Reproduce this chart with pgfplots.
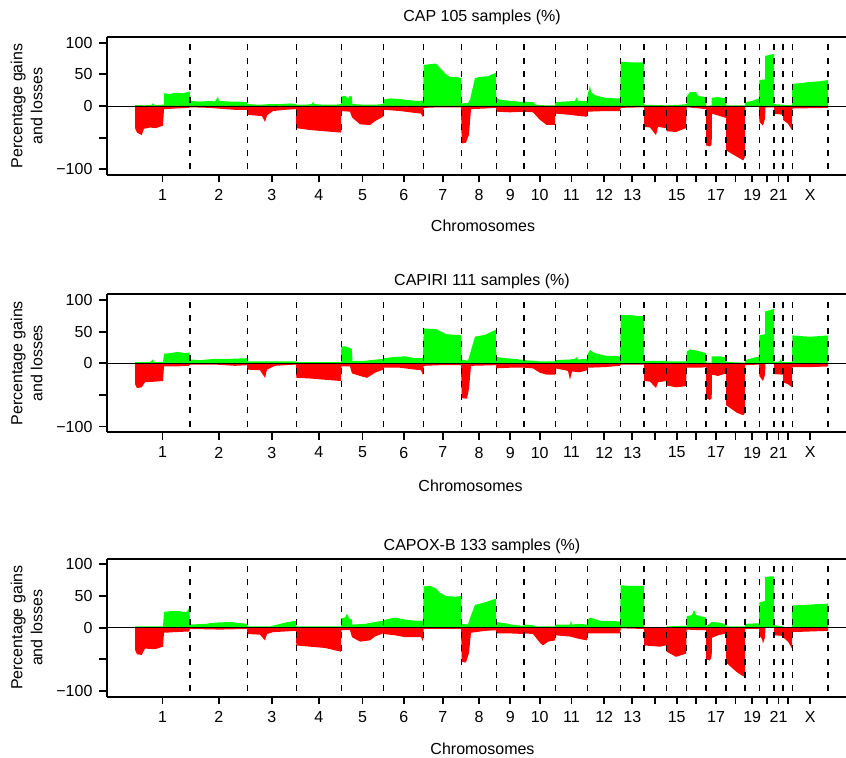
\documentclass[border=0pt]{standalone}
\usepackage{fontspec}
\setmainfont{Liberation Sans}
\usepackage{pgfplots}
\pgfplotsset{compat=1.18}
\definecolor{gain}{RGB}{0,255,0}
\definecolor{loss}{RGB}{255,0,0}
\newcommand{\fs}{\fontsize{8}{10}\selectfont}
\pgfplotsset{
  cnv/.style={
    scale only axis, width=369.5pt, height=69pt,
    xmin=107, xmax=846, ymin=-109, ymax=109,
    axis x line*=box, axis y line*=left,
    axis line style={-, line width=1pt, black},
    tick align=outside, tick pos=left,
    major tick length=3.75pt,
    every tick/.style={black, line width=0.9pt},
    xtick={162.5,218.7,271.8,318.8,362.5,403.7,442.7,479,510.2,539.7,571.5,604.2,632.3,655.3,676.7,696.3,716,735.5,752.2,766.7,778.5,787.7,810.2},
    xticklabels={1,2,3,4,5,6,7,8,9,10,11,12,13,,15,,17,,19,,21,,X},
    ytick={-100,-50,0,50,100}, yticklabels={−100,,0,50,100},
    /pgf/number format/assume math mode=true,
    tick label style={font=\fs},
    ylabel={Percentage gains\\and losses},
    ylabel style={font=\fs, align=center, at={(axis description cs:-0.0866,0.5)}, anchor=south, inner sep=0pt},
    xlabel={Chromosomes},
    every axis title shift=0pt,
    title style={font=\fs, anchor=base},
    xlabel style={font=\fs, anchor=base},
    unbounded coords=jump,
  },
  zeroline/.style={black, line width=0.45pt},
  bounds/.style={black, line width=0.65pt, dash pattern=on 3pt off 3.6pt},
}
\newcommand{\boundaries}{\addplot[bounds] coordinates {
 (190,-100)(190,99)(190,nan) (247.3,-100)(247.3,99)(247.3,nan) (296.3,-100)(296.3,99)(296.3,nan)
 (341.3,-100)(341.3,99)(341.3,nan) (383.7,-100)(383.7,99)(383.7,nan) (423.7,-100)(423.7,99)(423.7,nan)
 (461.7,-100)(461.7,99)(461.7,nan) (496.3,-100)(496.3,99)(496.3,nan) (524,-100)(524,99)(524,nan)
 (555.3,-100)(555.3,99)(555.3,nan) (587.7,-100)(587.7,99)(587.7,nan) (620.7,-100)(620.7,99)(620.7,nan)
 (644,-100)(644,99)(644,nan) (666.7,-100)(666.7,99)(666.7,nan) (686.7,-100)(686.7,99)(686.7,nan)
 (706,-100)(706,99)(706,nan) (726,-100)(726,99)(726,nan) (745,-100)(745,99)(745,nan)
 (759.3,-100)(759.3,99)(759.3,nan) (774,-100)(774,99)(774,nan) (783,-100)(783,99)(783,nan)
 (792.3,-100)(792.3,99)(792.3,nan) (828,-100)(828,99)};
 \addplot[zeroline] coordinates {(107,0)(846,0)};}
\begin{document}
\begin{tikzpicture}
\useasboundingbox (0,0) rectangle (423pt,379pt);
% ---------------- Panel 1: CAP ----------------
\begin{axis}[cnv, at={(53.5pt,291.5pt)}, anchor=south west,
  title={CAP 105 samples (\%)}, title style={at={(axis description cs:0.5074,1)}, yshift=7.65pt},
  xlabel style={at={(axis description cs:0.5088,0)}, yshift=-28.5pt}]
\addplot[fill=gain, draw=none] coordinates {
(135,0)(135,1.5)(145,1)(152,2)(153,5)(154,1.5)(163,2)(164,2)(164,20)(170,19)(176,21)(182,20)(188,22)(189.5,23)
(190,22)(190,8)(200,7)(210,8)(215,7)(218,15)(219,8)(230,7)(240,7)(247,6)
(247.3,3)(260,2)(270,3)(280,3)(290,4)(296,3)
(296.3,2)(305,2)(312,3)(313,7)(314,3)(325,2)(335,2)(341,3)
(341.3,15)(345,16)(348,12)(350,16)(351.7,15)(352.5,3)(365,2)(375,2)(383,3)
(383.7,10)(390,12)(400,11)(410,9)(420,8)(423,9)
(423.7,65)(430,66)(436,67)(440,60)(446,50)(450,46)(456,46)(461,44)
(461.7,4)(468,5)(470,10)(475,44)(480,46)(488,47)(492,50)(496,52)
(496.3,13)(500,10)(510,8)(518,7)(524,6)
(524.3,7)(533,6)(536,2)(545,1)(555,1)
(555.3,6)(565,7)(575,8)(576.7,14)(578,8)(587,8)
(587.8,20)(589,25)(590,33)(591,22)(595,17)(605,13)(615,12)(620,12)
(620.7,70)(630,69)(640,69)(644,69)
(644,2)(666.7,1)
(666.7,1)(680,2)(686.7,3)
(686.7,15)(690,22)(696,22)(698,16)(706,14)
(706,0)(711.7,1)(711.7,13)(718,14)(726,12)
(726,1)(745,1)
(745,6)(752,8)(759,12)
(759.3,41)(765,42)(765,79)(770,81)(774,82)
(774,3)(783,2)
(783,2)(792,1)
(792.3,35)(800,36)(810,38)(820,39)(828,41)(828,0)} \closedcycle;
\addplot[fill=loss, draw=none] coordinates {
(135,0)(135,-35)(137,-42)(141.7,-46)(144,-36)(150,-34)(156,-35)(163,-31)(164,-5)(175,-4)(189,-3)
(190,-2)(210,-3)(225,-5)(235,-6)(247,-6)
(247.3,-14)(255,-15)(262,-16)(265,-25)(267,-15)(273,-8)(285,-6)(296,-5)
(296.3,-35)(310,-38)(325,-40)(341,-42)
(341.3,-8)(350,-9)(352,-18)(360,-29)(370,-30)(375,-24)(383,-17)
(383.7,-6)(400,-8)(415,-11)(421,-12)(423,-18)
(423.7,-3)(440,-2)(461,-2)
(461.7,-59)(466,-58)(469,-45)(471,-5)(485,-4)(496,-3)
(496.3,-9)(510,-10)(524,-9)
(524.3,-9)(533,-10)(540,-22)(546.7,-30)(555,-30)
(555.3,-12)(570,-14)(580,-16)(587,-17)
(587.8,-9)(605,-8)(620,-8)
(620.7,-3)(644,-2)
(644,-33)(650,-34)(656,-46)(658,-33)(666,-35)
(666.7,-40)(676,-41)(686,-35)
(686.7,-2)(700,-4)(706,-5)
(706,-62)(710,-64)(711.7,-60)(712,-12)(718,-15)(726,-19)
(726,-70)(736.7,-80)(743.3,-86)(745,-80)
(745,-1)(759,-1)
(759.3,-25)(763,-31)(765,-20)(765.5,-2)(774,-2)
(774,-12)(783,-14)
(783,-22)(788,-28)(792,-38)
(792.3,-4)(828,-3)(828,0)} \closedcycle;
\boundaries
\end{axis}
% ---------------- Panel 2: CAPIRI ----------------
\begin{axis}[cnv, at={(53.5pt,162.85pt)}, anchor=south west,
  title={CAPIRI 111 samples (\%)}, title style={at={(axis description cs:0.5074,1)}, yshift=4.3pt},
  xlabel style={at={(axis description cs:0.4919,0)}, yshift=-29.7pt}]
\addplot[fill=gain, draw=none] coordinates {
(135,0)(135,2)(150,2)(153,6)(154,2)(163,2)(164,15)(170,16)(178,18)(185,16)(189.5,17)
(190,6)(200,5)(215,7)(230,7)(247,8)
(247.3,3)(270,3)(296,3)
(296.3,2)(320,2)(341,2)
(341.3,26)(345,27)(350,24)(351.7,23)(352.5,4)(365,4)(383,7)
(383.7,8)(395,10)(405,11)(415,8)(423,8)
(423.7,55)(436,54)(440,51)(446,46)(455,45)(461,45)
(461.7,6)(468,4)(470,15)(475,42)(485,45)(496,53)
(496.3,10)(505,8)(515,7)(524,5)
(524.3,5)(540,3)(555,3)
(555.3,5)(570,6)(575,7)(576.7,10)(578,6)(587,7)
(587.8,15)(590,21)(595,16)(605,12)(620,11)
(620.7,76)(630,76)(644,74)
(644,4)(666.7,4)
(666.7,3)(686.7,3)
(686.7,18)(690,22)(697,20)(706,16)
(706,1)(711.7,1)(711.7,11)(720,11)(726,9)
(726,2)(745,1)
(745,5)(752,8)(759,11)
(759.3,44)(765,46)(765,82)(770,84)(774,86)
(774,2)(780,3)(781,8)(782,2)(783,2)
(783,2)(792,2)
(792.3,44)(800,43)(810,42)(820,43)(828,44)(828,0)} \closedcycle;
\addplot[fill=loss, draw=none] coordinates {
(135,0)(135,-33)(137,-39)(141.7,-38)(145,-30)(155,-29)(163,-28)(164,-5)(175,-5)(189,-4)
(190,-2)(215,-2)(235,-4)(247,-3)
(247.3,-10)(260,-11)(265,-23)(267,-10)(275,-4)(296,-2)
(296.3,-23)(310,-24)(325,-26)(341,-28)
(341.3,-5)(350,-5)(352,-16)(360,-20)(367,-23)(375,-15)(383,-10)
(383.7,-7)(400,-7)(415,-10)(421,-11)(423,-18)
(423.7,-4)(440,-3)(461,-3)
(461.7,-55)(467,-56)(469,-40)(471,-4)(496,-3)
(496.3,-8)(510,-7)(524,-7)
(524.3,-7)(533,-8)(540,-15)(546.7,-18)(555,-18)
(555.3,-8)(568,-12)(570,-26)(572,-13)(580,-14)(587,-11)
(587.8,-7)(605,-6)(620,-4)
(620.7,-2)(644,-2)
(644,-28)(650,-29)(656,-39)(658,-30)(666,-28)
(666.7,-35)(676,-38)(686,-36)
(686.7,-7)(700,-7)(706,-6)
(706,-55)(710,-58)(711.7,-55)(712,-18)(718,-20)(726,-16)
(726,-66)(736.7,-78)(743.3,-82)(745,-78)
(745,-3)(759,-2)
(759.3,-20)(763,-28)(765,-18)(765.5,0)(774,0)
(774,-17)(783,-18)
(783,-30)(788,-33)(792,-38)
(792.3,-6)(810,-6)(828,-5)(828,0)} \closedcycle;
\boundaries
\end{axis}
% ---------------- Panel 3: CAPOX-B ----------------
\begin{axis}[cnv, at={(53.5pt,30.65pt)}, anchor=south west,
  title={CAPOX-B 133 samples (\%)}, title style={at={(axis description cs:0.5074,1)}, yshift=4.15pt},
  xlabel style={at={(axis description cs:0.5081,0)}, yshift=-29.15pt}]
\addplot[fill=gain, draw=none] coordinates {
(135,0)(135,2)(163,2)(164,25)(170,26)(180,26)(186,24)(189.5,31)
(190,5)(205,6)(215,8)(230,9)(247,6)
(247.3,2)(270,2)(285,8)(296,11)
(296.3,2)(320,2)(341,2)
(341.3,15)(345,16)(347,22)(349,15)(351.7,13)(352.5,5)(365,6)(375,9)(383,11)
(383.7,12)(395,16)(405,13)(415,11)(423,11)
(423.7,65)(430,66)(436,62)(440,55)(446,50)(455,49)(461,50)
(461.7,6)(468,5)(470,15)(475,36)(485,40)(496,46)
(496.3,9)(505,7)(515,4)(524,3)
(524.3,5)(533,4)(536,2)(555,2)
(555.3,5)(570,5)(571,11)(572,5)(580,6)(587,5)
(587.8,12)(590,16)(600,11)(620,10)
(620.7,67)(630,66)(644,66)
(644,1)(666.7,1)
(666.7,2)(686.7,3)
(686.7,18)(692,20)(694,28)(696,20)(706,16)
(706,2)(711.7,9)(720,8)(726,5)
(726,2)(745,2)
(745,6)(759,7)
(759.3,40)(765,42)(765,80)(770,81)(774,81)
(774,4)(783,2)
(783,1)(792,0)
(792.3,35)(805,36)(815,37)(828,38)(828,0)} \closedcycle;
\addplot[fill=loss, draw=none] coordinates {
(135,0)(135,-35)(137,-42)(141.7,-43)(145,-33)(155,-34)(163,-30)(164,-8)(175,-7)(189,-6)
(190,-2)(220,-3)(247,-2)
(247.3,-10)(260,-11)(265,-20)(267,-10)(273,-7)(285,-6)(296,-5)
(296.3,-28)(310,-30)(325,-32)(341,-38)
(341.3,-4)(350,-4)(352,-15)(360,-22)(370,-20)(375,-14)(383,-9)
(383.7,-10)(395,-12)(405,-15)(415,-15)(421,-15)(423,-22)
(423.7,-2)(461,-2)
(461.7,-54)(466,-55)(469,-40)(471,-8)(485,-5)(496,-4)
(496.3,-9)(510,-9)(524,-10)
(524.3,-9)(533,-10)(540,-24)(543,-28)(548,-22)(555,-20)
(555.3,-12)(570,-14)(580,-18)(587,-20)
(587.8,-9)(605,-9)(620,-9)
(620.7,-1)(644,-2)
(644,-28)(660,-30)(666,-28)
(666.7,-38)(676,-46)(686,-41)
(686.7,-3)(700,-4)(706,-4)
(706,-50)(710,-52)(711.7,-45)(712,-16)(718,-12)(726,-9)
(726,-55)(736.7,-70)(743.3,-77)(745,-74)
(745,-2)(759,-2)
(759.3,-12)(762,-18)(763,-25)(765,-15)(765.5,0)(774,0)
(774,-12)(783,-13)
(783,-15)(788,-22)(792,-33)
(792.3,-7)(810,-6)(828,-5)(828,0)} \closedcycle;
\boundaries
\end{axis}
\end{tikzpicture}
\end{document}
